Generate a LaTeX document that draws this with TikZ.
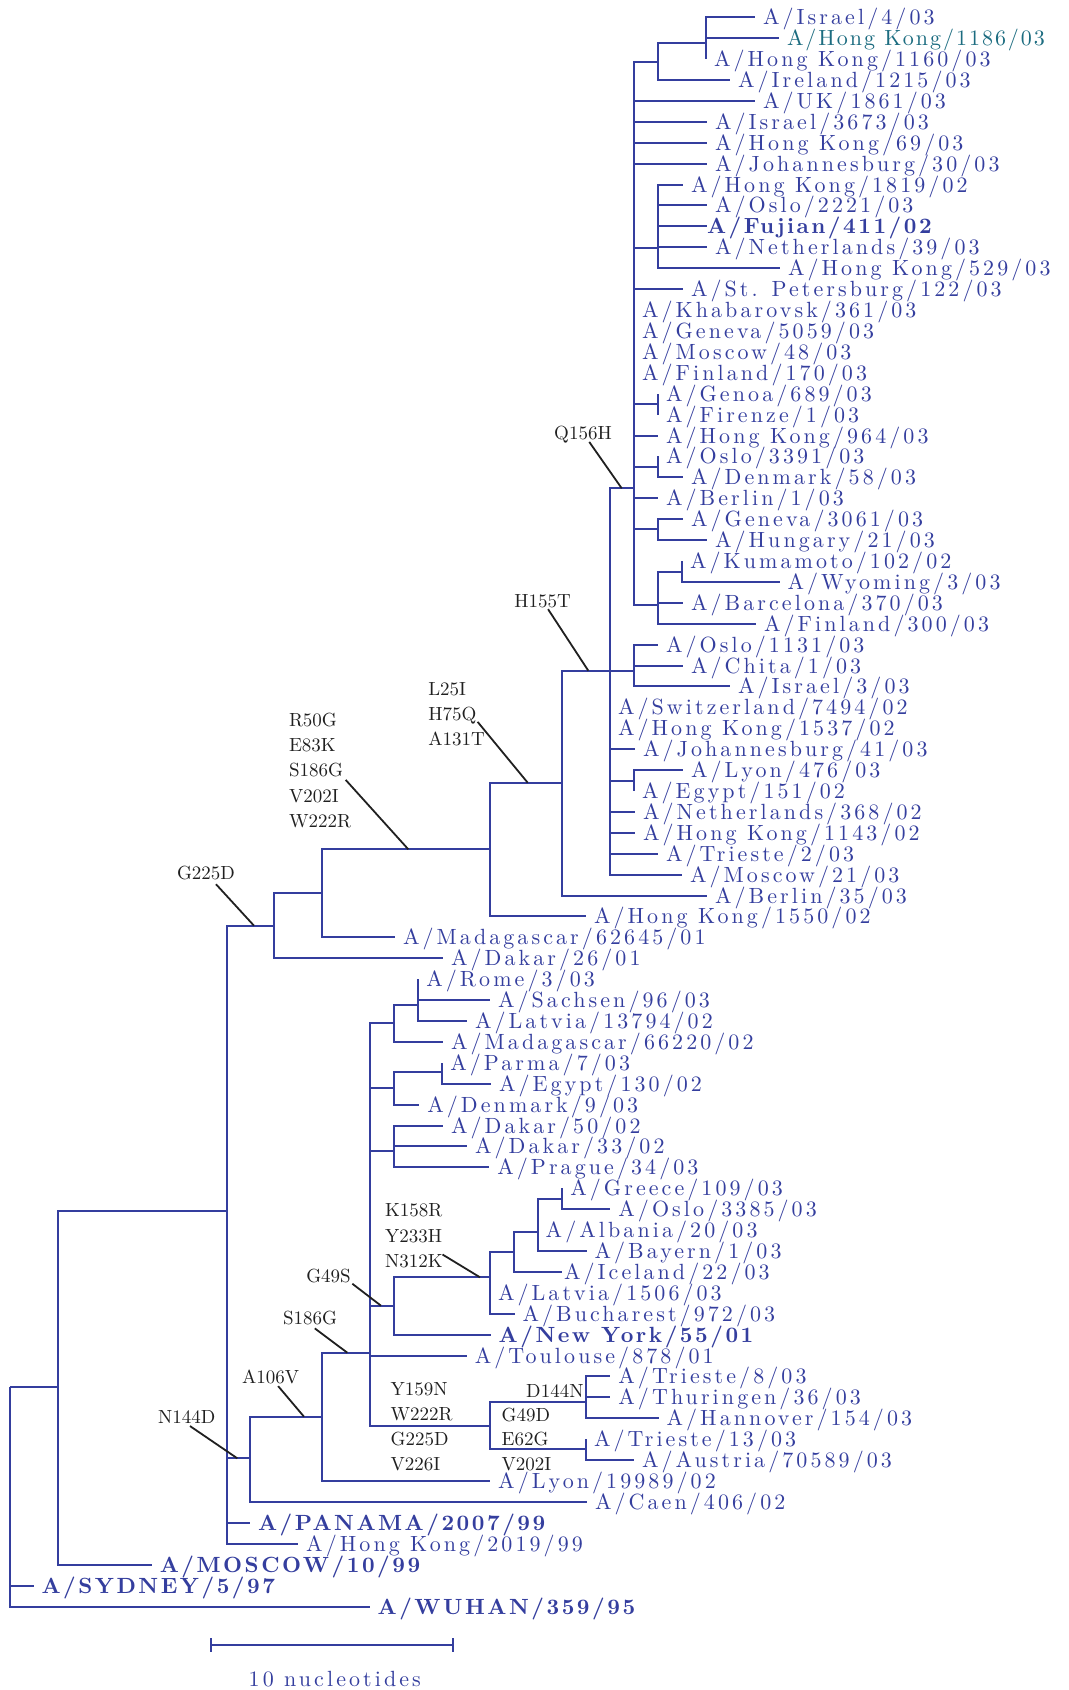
\documentclass[tikz,border=0pt]{standalone}
\usepackage{fontspec}
\usepackage{tikz}
\newfontfamily\leaffont{lmroman10}[Extension=.otf, UprightFont=*-regular, BoldFont=*-bold, LetterSpace=14.0]
\newfontfamily\boldleaffont{lmroman10}[Extension=.otf, UprightFont=*-bold, LetterSpace=11.5]
\newfontfamily\tealfont{lmroman10}[Extension=.otf, UprightFont=*-regular, LetterSpace=9.0]
\definecolor{treeblue}{RGB}{52,62,158}
\definecolor{tealhk}{RGB}{28,108,128}
\definecolor{mutgray}{RGB}{32,32,32}

\begin{document}
\begin{tikzpicture}[x=0.5pt,y=-0.5pt,
    branch/.style={line width=1pt,treeblue},
    leaf/.style={anchor=west,inner xsep=4pt,inner ysep=0pt,outer sep=0pt,
        text height=7.5pt,text depth=0pt,text=treeblue,
        font=\leaffont\fontsize{11}{13}\selectfont},
    boldleaf/.style={leaf,font=\boldleaffont\fontsize{11}{13}\selectfont},
    mut/.style={inner sep=0pt,outer sep=0pt,text height=6.5pt,text depth=0pt,
        text=mutgray,font=\fontsize{9.5}{11}\selectfont},
    pointer/.style={line width=0.9pt,mutgray}]
    \useasboundingbox (0,0) rectangle (1069,1690);

    % leaves, top clade
    \node[leaf] (isr4) at (755,17.3) {A/Israel/4/03};
    \node[leaf,text=tealhk,font=\tealfont\fontsize{11}{13}\selectfont] (hk1186) at (779,38.2) {A/Hong Kong/1186/03};
    \node[leaf] (hk1160) at (706,59.1) {A/Hong Kong/1160/03};
    \node[leaf] (ire1215) at (730,80.0) {A/Ireland/1215/03};
    \node[leaf] (uk1861) at (755,100.9) {A/UK/1861/03};
    \node[leaf] (isr3673) at (707,121.9) {A/Israel/3673/03};
    \node[leaf] (hk69) at (707,142.8) {A/Hong Kong/69/03};
    \node[leaf] (joh30) at (707,163.7) {A/Johannesburg/30/03};
    \node[leaf] (hk1819) at (683,184.6) {A/Hong Kong/1819/02};
    \node[leaf] (osl2221) at (707,205.5) {A/Oslo/2221/03};
    \node[boldleaf,inner xsep=0pt] (fuj411) at (707,226.4) {A/Fujian/411/02};
    \node[leaf] (neth39) at (707,247.3) {A/Netherlands/39/03};
    \node[leaf] (hk529) at (780,268.2) {A/Hong Kong/529/03};
    \node[leaf] (stp122) at (683,289.1) {A/St. Petersburg/122/03};
    \node[leaf] (kha361) at (634,310.0) {A/Khabarovsk/361/03};
    \node[leaf] (gen5059) at (634,330.9) {A/Geneva/5059/03};
    \node[leaf] (mos48) at (634,351.9) {A/Moscow/48/03};
    \node[leaf] (fin170) at (634,372.8) {A/Finland/170/03};
    \node[leaf] (gno689) at (658,393.7) {A/Genoa/689/03};
    \node[leaf] (fir1) at (658,414.6) {A/Firenze/1/03};
    \node[leaf] (hk964) at (658,435.5) {A/Hong Kong/964/03};
    \node[leaf] (osl3391) at (658,456.4) {A/Oslo/3391/03};
    \node[leaf] (den58) at (683,477.3) {A/Denmark/58/03};
    \node[leaf] (ber1) at (658,498.2) {A/Berlin/1/03};
    \node[leaf] (gen3061) at (683,519.1) {A/Geneva/3061/03};
    \node[leaf] (hun21) at (707,540.0) {A/Hungary/21/03};
    \node[leaf] (kum102) at (682,560.9) {A/Kumamoto/102/02};
    \node[leaf] (wyo3) at (779.5,581.9) {A/Wyoming/3/03};
    \node[leaf] (bar370) at (683,602.8) {A/Barcelona/370/03};
    \node[leaf] (fin300) at (756,623.7) {A/Finland/300/03};
    \node[leaf] (osl1131) at (658,644.6) {A/Oslo/1131/03};
    \node[leaf] (chi1) at (683,665.5) {A/Chita/1/03};
    \node[leaf] (isr3) at (730,686.4) {A/Israel/3/03};
    \node[leaf] (swi7494) at (610,707.3) {A/Switzerland/7494/02};
    \node[leaf] (hk1537) at (610,728.2) {A/Hong Kong/1537/02};
    \node[leaf] (joh41) at (635,749.1) {A/Johannesburg/41/03};
    \node[leaf] (lyo476) at (683,770.1) {A/Lyon/476/03};
    \node[leaf] (egy151) at (634,791.0) {A/Egypt/151/02};
    \node[leaf] (neth368) at (635,811.9) {A/Netherlands/368/02};
    \node[leaf] (hk1143) at (635,832.8) {A/Hong Kong/1143/02};
    \node[leaf] (tri2) at (658,853.7) {A/Trieste/2/03};
    \node[leaf] (mos21) at (682,874.6) {A/Moscow/21/03};
    \node[leaf] (ber35) at (707,895.5) {A/Berlin/35/03};
    \node[leaf] (hk1550) at (586,916.4) {A/Hong Kong/1550/02};
    \node[leaf] (mad62645) at (395,937.3) {A/Madagascar/62645/01};
    \node[leaf] (dak26) at (443,958.2) {A/Dakar/26/01};
    % leaves, lower clade
    \node[leaf] (rom3) at (418.3,979.2) {A/Rome/3/03};
    \node[leaf] (sac96) at (490,1000.1) {A/Sachsen/96/03};
    \node[leaf] (lat13794) at (467,1021.0) {A/Latvia/13794/02};
    \node[leaf] (mad66220) at (443,1041.9) {A/Madagascar/66220/02};
    \node[leaf] (par7) at (442.3,1062.8) {A/Parma/7/03};
    \node[leaf] (egy130) at (491,1083.7) {A/Egypt/130/02};
    \node[leaf] (den9) at (419.3,1104.6) {A/Denmark/9/03};
    \node[leaf] (dak50) at (443,1125.5) {A/Dakar/50/02};
    \node[leaf] (dak33) at (467,1146.4) {A/Dakar/33/02};
    \node[leaf] (pra34) at (489.3,1167.3) {A/Prague/34/03};
    \node[leaf] (gre109) at (562.3,1188.3) {A/Greece/109/03};
    \node[leaf] (osl3385) at (610.4,1209.2) {A/Oslo/3385/03};
    \node[leaf] (alb20) at (537.7,1230.1) {A/Albania/20/03};
    \node[leaf] (bay1) at (586.5,1251.0) {A/Bayern/1/03};
    \node[leaf,inner xsep=1pt] (ice22) at (562,1271.9) {A/Iceland/22/03};
    \node[leaf] (lat1506) at (490,1292.8) {A/Latvia/1506/03};
    \node[leaf] (buc972) at (514.5,1313.7) {A/Bucharest/972/03};
    \node[boldleaf] (ny55) at (490.7,1334.6) {A/New York/55/01};
    \node[leaf] (tou878) at (466.8,1355.5) {A/Toulouse/878/01};
    \node[leaf] (tri8) at (610.4,1376.4) {A/Trieste/8/03};
    \node[leaf] (thu36) at (610.4,1397.3) {A/Thuringen/36/03};
    \node[leaf] (han154) at (658.6,1418.3) {A/Hannover/154/03};
    \node[leaf] (tri13) at (586,1439.2) {A/Trieste/13/03};
    \node[leaf] (aus70589) at (634,1460.1) {A/Austria/70589/03};
    \node[leaf] (lyo19989) at (490.2,1481.0) {A/Lyon/19989/02};
    \node[leaf] (cae406) at (587,1501.9) {A/Caen/406/02};
    \node[boldleaf] (pan2007) at (250,1522.8) {A/PANAMA/2007/99};
    \node[leaf] (hk2019) at (298.2,1543.7) {A/Hong Kong/2019/99};
    \node[boldleaf] (mos10) at (151.8,1564.6) {A/MOSCOW/10/99};
    \node[boldleaf] (syd5) at (33.5,1585.5) {A/SYDNEY/5/97};
    \node[boldleaf] (wuh359) at (369.6,1606.5) {A/WUHAN/359/95};

    % inner nodes
    \coordinate (cIsr) at (706,43.3);
    \coordinate (cIre) at (658,62);
    \coordinate (cFuj) at (658,248);
    \coordinate (cGno) at (658,404);
    \coordinate (cOsl) at (658,466.7);
    \coordinate (cHun) at (658,529.3);
    \coordinate (cKum) at (682,571.7);
    \coordinate (cBar) at (658,605);
    \coordinate (cQ) at (634,488.3);
    \coordinate (cChi) at (634,670.7);
    \coordinate (cLyo) at (634,780.7);
    \coordinate (cH) at (610,670.7);
    \coordinate (cL) at (562,782.7);
    \coordinate (cR) at (490,849.3);
    \coordinate (cG) at (322.3,893.3);
    \coordinate (cD) at (274.3,925.7);
    \coordinate (cRom) at (418.3,1005);
    \coordinate (cMad) at (394.3,1022.7);
    \coordinate (cPar) at (442.3,1071.7);
    \coordinate (cDen) at (394.3,1088.3);
    \coordinate (cDak) at (394.3,1151);
    \coordinate (cGre) at (562.3,1199);
    \coordinate (cBay) at (537.7,1231.7);
    \coordinate (cIce) at (514.3,1252.3);
    \coordinate (cK) at (490,1277.3);
    \coordinate (cS) at (394.3,1305.7);
    \coordinate (cTri) at (586,1401.7);
    \coordinate (cAus) at (586,1449.3);
    \coordinate (cY) at (490,1425.7);
    \coordinate (cT) at (370,1352.7);
    \coordinate (cA) at (322.3,1416.7);
    \coordinate (cN) at (250,1458.3);
    \coordinate (cPan) at (226.8,1211);
    \coordinate (cMos) at (57.7,1387.3);
    \coordinate (cRoot) at (9.8,1387.3);

    % branches
    \foreach \c in {isr4,hk1186,hk1160} \draw[branch] (cIsr) |- (\c);
    \foreach \c in {cIsr,ire1215} \draw[branch] (cIre) |- (\c);
    \foreach \c in {hk1819,osl2221,fuj411,neth39,hk529} \draw[branch] (cFuj) |- (\c);
    \foreach \c in {gno689,fir1} \draw[branch] (cGno) |- (\c);
    \foreach \c in {osl3391,den58} \draw[branch] (cOsl) |- (\c);
    \foreach \c in {gen3061,hun21} \draw[branch] (cHun) |- (\c);
    \foreach \c in {kum102,wyo3} \draw[branch] (cKum) |- (\c);
    \foreach \c in {cKum,bar370,fin300} \draw[branch] (cBar) |- (\c);
    \foreach \c in {cIre,uk1861,isr3673,hk69,joh30,cFuj,stp122,kha361,gen5059,
        mos48,fin170,cGno,hk964,cOsl,ber1,cHun,cBar} \draw[branch] (cQ) |- (\c);
    \foreach \c in {osl1131,chi1,isr3} \draw[branch] (cChi) |- (\c);
    \foreach \c in {lyo476,egy151} \draw[branch] (cLyo) |- (\c);
    \foreach \c in {cQ,cChi,swi7494,hk1537,joh41,cLyo,neth368,hk1143,tri2,mos21}
        \draw[branch] (cH) |- (\c);
    \foreach \c in {cH,ber35} \draw[branch] (cL) |- (\c);
    \foreach \c in {cL,hk1550} \draw[branch] (cR) |- (\c);
    \foreach \c in {cR,mad62645} \draw[branch] (cG) |- (\c);
    \foreach \c in {cG,dak26} \draw[branch] (cD) |- (\c);
    \foreach \c in {rom3,sac96,lat13794} \draw[branch] (cRom) |- (\c);
    \foreach \c in {cRom,mad66220} \draw[branch] (cMad) |- (\c);
    \foreach \c in {par7,egy130} \draw[branch] (cPar) |- (\c);
    \foreach \c in {cPar,den9} \draw[branch] (cDen) |- (\c);
    \foreach \c in {dak50,dak33,pra34} \draw[branch] (cDak) |- (\c);
    \foreach \c in {gre109,osl3385} \draw[branch] (cGre) |- (\c);
    \foreach \c in {cGre,alb20,bay1} \draw[branch] (cBay) |- (\c);
    \foreach \c in {cBay,ice22} \draw[branch] (cIce) |- (\c);
    \foreach \c in {cIce,lat1506,buc972} \draw[branch] (cK) |- (\c);
    \foreach \c in {cK,ny55} \draw[branch] (cS) |- (\c);
    \foreach \c in {tri8,thu36,han154} \draw[branch] (cTri) |- (\c);
    \foreach \c in {tri13,aus70589} \draw[branch] (cAus) |- (\c);
    \foreach \c in {cTri,cAus} \draw[branch] (cY) |- (\c);
    \foreach \c in {cMad,cDen,cDak,cS,tou878,cY} \draw[branch] (cT) |- (\c);
    \foreach \c in {cT,lyo19989} \draw[branch] (cA) |- (\c);
    \foreach \c in {cA,cae406} \draw[branch] (cN) |- (\c);
    \foreach \c in {cD,cN,pan2007,hk2019} \draw[branch] (cPan) |- (\c);
    \foreach \c in {cPan,mos10} \draw[branch] (cMos) |- (\c);
    \foreach \c in {cMos,syd5,wuh359} \draw[branch] (cRoot) |- (\c);

    % mutations
    \node[mut] (q156h) at (583,433) {Q156H};
    \node[mut] (h155t) at (542.7,601) {H155T};
    \node[mut,anchor=west] (l25i) at (428.3,689) {L25I};
    \node[mut,anchor=west] (h75q) at (428.3,713.8) {H75Q};
    \node[mut,anchor=west] (a131t) at (428.3,738.6) {A131T};
    \node[mut,anchor=west] (r50g) at (289,720) {R50G};
    \node[mut,anchor=west] (e83k) at (289,745.2) {E83K};
    \node[mut,anchor=west] (s186g) at (289,770.4) {S186G};
    \node[mut,anchor=west] (v202i) at (289,795.6) {V202I};
    \node[mut,anchor=west] (w222r) at (289,820.8) {W222R};
    \node[mut] (g225d) at (206,873.3) {G225D};
    \node[mut,anchor=west] (k158r) at (385,1210) {K158R};
    \node[mut,anchor=west] (y233h) at (385,1235.5) {Y233H};
    \node[mut,anchor=west] (n312k) at (385,1261) {N312K};
    \node[mut] (g49s) at (328.5,1276) {G49S};
    \node[mut] (s186gb) at (310,1318.3) {S186G};
    \node[mut] (a106v) at (270.7,1377.3) {A106V};
    \node[mut] (n144d) at (186.7,1417.3) {N144D};
    \node[mut,anchor=west] (y159n) at (390.7,1389) {Y159N};
    \node[mut,anchor=west] (w222rb) at (390.7,1414) {W222R};
    \node[mut,anchor=west] (g225db) at (390.7,1439.3) {G225D};
    \node[mut,anchor=west] (v226i) at (390.7,1464.3) {V226I};
    \node[mut,anchor=east] (d144n) at (583.5,1390.7) {D144N};
    \node[mut,anchor=west] (g49d) at (501.7,1415) {G49D};
    \node[mut,anchor=west] (e62g) at (501.7,1439.3) {E62G};
    \node[mut,anchor=west] (v202ib) at (501.7,1464.3) {V202I};

    \coordinate (pQ) at (621.7,488.3);
    \coordinate (pH) at (588.3,670.7);
    \coordinate (pL) at (527.7,782.7);
    \coordinate (pR) at (408.3,849.3);
    \coordinate (pG) at (254,925.7);
    \coordinate (pK) at (480,1277.3);
    \coordinate (pS) at (381,1305.7);
    \coordinate (pT) at (347.3,1352.7);
    \coordinate (pA) at (304,1416.7);
    \coordinate (pN) at (237.3,1458.3);

    \draw[pointer,shorten <=1.5pt] (q156h) -- (pQ);
    \draw[pointer,shorten <=1pt] (h155t) -- (pH);
    \draw[pointer,shorten <=1pt] (h75q.south east) -- (pL);
    \draw[pointer,shorten <=2pt] (s186g.south east) -- (pR);
    \draw[pointer,shorten <=3pt] (g225d) -- (pG);
    \draw[pointer] (n312k.north east) -- (pK);
    \draw[pointer,shorten <=1pt] (g49s.south east) -- (pS);
    \draw[pointer,shorten <=3pt] (s186gb.south) -- (pT);
    \draw[pointer,shorten <=1.5pt] (a106v) -- (pA);
    \draw[pointer,shorten <=2pt] (n144d.south) -- (pN);

    % scale bar
    \coordinate (barL) at (211.2,1645);
    \coordinate (barR) at (453.1,1645);
    \draw[branch] (barL) -- (barR);
    \draw[branch] ([yshift=3.35pt]barL) -- ([yshift=-3.35pt]barL);
    \draw[branch] ([yshift=3.35pt]barR) -- ([yshift=-3.35pt]barR);
    \node[text=treeblue,font=\leaffont\fontsize{11}{13}\selectfont,anchor=base,inner sep=0pt]
        (scalelab) at (334.8,1686.5) {10 nucleotides};
\end{tikzpicture}
\end{document}
